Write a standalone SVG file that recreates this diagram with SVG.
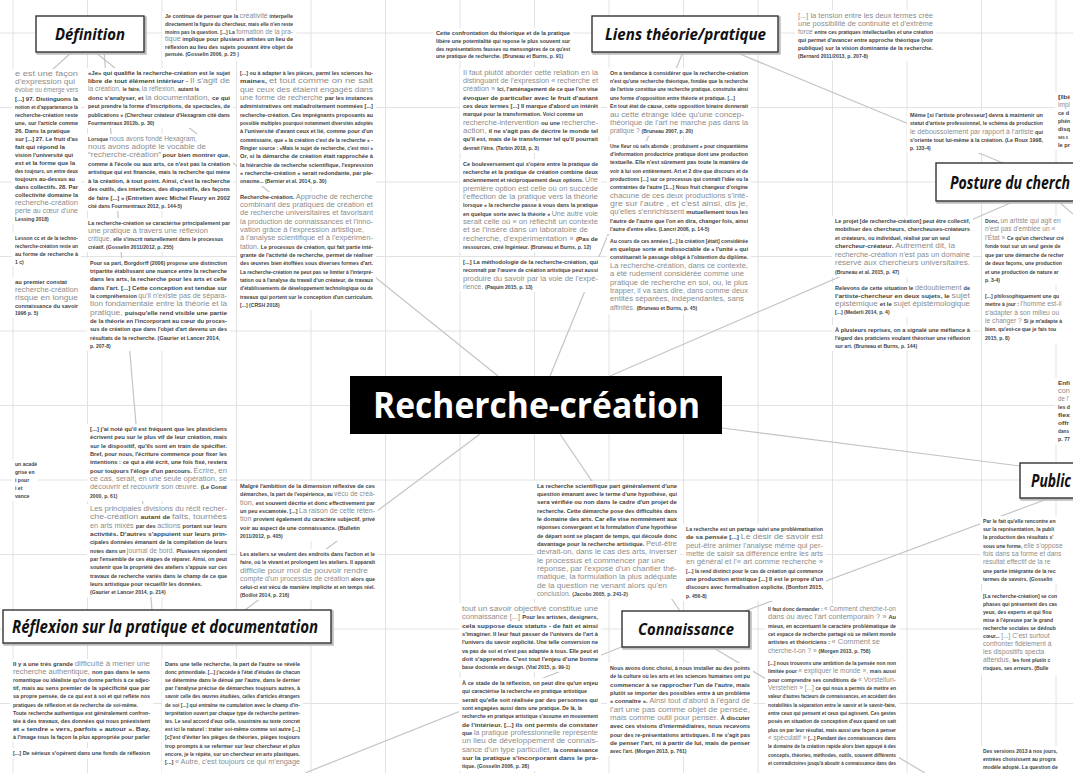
<svg xmlns="http://www.w3.org/2000/svg" width="1073" height="773" viewBox="0 0 1073 773">
<defs>
<style>
.grid line{stroke:#e2e2e2;stroke-width:1}
.con line{stroke:#c4c4c4;stroke-width:1.2}
.bg{fill:#ffffff}
.d{font-family:"Liberation Sans Narrow","Liberation Sans",Arial,sans-serif;font-size:5.1px;font-weight:700;fill:#444}
.g{font-family:"Liberation Sans",Arial,sans-serif;font-size:6.7px;font-weight:400;fill:#8c8c8c}
.bsh{fill:none;stroke:#bdbdbd;stroke-width:2.5}
.box{fill:#fff;stroke:#333;stroke-width:1.4}
.lbl{font-family:"Open Sans","DejaVu Sans",sans-serif;font-style:italic;font-weight:700;fill:#111}
.title{font-family:"Open Sans","DejaVu Sans",sans-serif;font-weight:700;font-size:36px;fill:#fff}
</style>
</defs>
<rect width="1073" height="773" fill="#fff"/>
<g class="grid" id="grid">
<line x1="13" y1="0" x2="13" y2="773"/><line x1="87.5" y1="0" x2="87.5" y2="773"/><line x1="162" y1="0" x2="162" y2="773"/><line x1="236.5" y1="0" x2="236.5" y2="773"/><line x1="311" y1="0" x2="311" y2="773"/><line x1="385.5" y1="0" x2="385.5" y2="773"/><line x1="460" y1="0" x2="460" y2="773"/><line x1="534.5" y1="0" x2="534.5" y2="773"/><line x1="609" y1="0" x2="609" y2="773"/><line x1="683.5" y1="0" x2="683.5" y2="773"/><line x1="758" y1="0" x2="758" y2="773"/><line x1="832.5" y1="0" x2="832.5" y2="773"/><line x1="907" y1="0" x2="907" y2="773"/><line x1="981.5" y1="0" x2="981.5" y2="773"/><line x1="1056" y1="0" x2="1056" y2="773"/>
<line x1="0" y1="33" x2="1073" y2="33"/><line x1="0" y1="107.5" x2="1073" y2="107.5"/><line x1="0" y1="182" x2="1073" y2="182"/><line x1="0" y1="256.5" x2="1073" y2="256.5"/><line x1="0" y1="331" x2="1073" y2="331"/><line x1="0" y1="405.5" x2="1073" y2="405.5"/><line x1="0" y1="480" x2="1073" y2="480"/><line x1="0" y1="554.5" x2="1073" y2="554.5"/><line x1="0" y1="629" x2="1073" y2="629"/><line x1="0" y1="703.5" x2="1073" y2="703.5"/>
</g>
<g class="con" id="connectors">
<line x1="95" y1="52" x2="498" y2="376"/>
<line x1="104" y1="52" x2="152" y2="610"/>
<line x1="72" y1="52" x2="52" y2="70"/>
<line x1="683" y1="52" x2="550" y2="376"/>
<line x1="735" y1="52" x2="1003" y2="163"/>
<line x1="610" y1="376" x2="1015" y2="201"/>
<line x1="1058" y1="201" x2="1073" y2="214"/>
<line x1="722" y1="428" x2="1020" y2="466"/>
<line x1="560" y1="434" x2="680" y2="611"/>
<line x1="480" y1="434" x2="245" y2="610"/>
<line x1="1050" y1="498" x2="745" y2="611"/>
<line x1="624" y1="646" x2="305" y2="773"/>
<line x1="712" y1="647" x2="925" y2="773"/>
</g>

<g id="q-def-a">
<rect class="bg" x="162" y="11" width="134" height="50"/>
<text class="d" x="165" y="18" textLength="128" lengthAdjust="spacingAndGlyphs">Je continue de penser que la <tspan class="g">créativité</tspan> interpelle</text>
<text class="d" x="165" y="26" textLength="128" lengthAdjust="spacingAndGlyphs">directement la figure du chercheur, mais elle n'en reste</text>
<text class="d" x="165" y="34" textLength="128" lengthAdjust="spacingAndGlyphs">moins pas la question. [...] La <tspan class="g">formation de la pra-</tspan></text>
<text class="d" x="165" y="41" textLength="128" lengthAdjust="spacingAndGlyphs"><tspan class="g">tique</tspan> implique pour plusieurs artistes un lieu de</text>
<text class="d" x="165" y="49" textLength="128" lengthAdjust="spacingAndGlyphs">réflexion au lieu des sujets pouvant être objet de</text>
<text class="d" x="165" y="56">pensée. (Gosselin 2006, p. 25 )</text>
</g>

<g id="q-top-b">
<rect class="bg" x="433" y="28" width="140" height="33"/>
<text class="d" x="436" y="35" textLength="134" lengthAdjust="spacingAndGlyphs">Cette confrontation du théorique et de la pratique</text>
<text class="d" x="436" y="43" textLength="134" lengthAdjust="spacingAndGlyphs">libère une potentialité qui repose le plus souvent sur</text>
<text class="d" x="436" y="51" textLength="134" lengthAdjust="spacingAndGlyphs">des représentations fausses ou mensongères de ce qu'est</text>
<text class="d" x="436" y="58">une pratique de recherche. (Bruneau et Burns, p. 91)</text>
</g>

<g id="q-liens-a">
<rect class="bg" x="795" y="10" width="141" height="51"/>
<text class="g" x="798" y="18" textLength="135" lengthAdjust="spacingAndGlyphs">[...] la tension entre les deux termes crée</text>
<text class="g" x="798" y="26" textLength="135" lengthAdjust="spacingAndGlyphs">une possibilité de continuité et d'extrême</text>
<text class="d" x="798" y="34" textLength="135" lengthAdjust="spacingAndGlyphs"><tspan class="g">force </tspan>entre ces pratiques intellectuelles et une création</text>
<text class="d" x="798" y="42" textLength="135" lengthAdjust="spacingAndGlyphs">qui permet d'avancer entre approche théorique (voir</text>
<text class="d" x="798" y="50" textLength="135" lengthAdjust="spacingAndGlyphs">publique) sur la vision dominante de la recherche.</text>
<text class="d" x="798" y="58">(Bernard 2011/2013, p. 207-8)</text>
</g>

<g id="q-post-a">
<rect class="bg" x="907" y="110" width="139" height="43"/>
<text class="d" x="910" y="117" textLength="133" lengthAdjust="spacingAndGlyphs">Même [si l'artiste professeur] devra à maintenir un</text>
<text class="d" x="910" y="125" textLength="133" lengthAdjust="spacingAndGlyphs">statut d'artiste professionnel, le schéma de production</text>
<text class="d" x="910" y="134" textLength="133" lengthAdjust="spacingAndGlyphs"><tspan class="g">le déboussolement par rapport à l'artiste</tspan> qui</text>
<text class="d" x="910" y="142" textLength="133" lengthAdjust="spacingAndGlyphs">s'oriente tout lui-même à la création. (Le Roux 1998,</text>
<text class="d" x="910" y="150">p. 133-4)</text>
</g>

<g id="q-post-b">
<rect class="bg" x="1055" y="92" width="18" height="58"/>
<text class="d" x="1058" y="99" textLength="12" lengthAdjust="spacingAndGlyphs">[Ibi</text>
<text class="g" x="1058" y="107" textLength="12" lengthAdjust="spacingAndGlyphs">Impl</text>
<text class="d" x="1058" y="115" textLength="11" lengthAdjust="spacingAndGlyphs">ce d</text>
<text class="d" x="1058" y="123" textLength="12" lengthAdjust="spacingAndGlyphs">phén</text>
<text class="d" x="1058" y="131" textLength="12" lengthAdjust="spacingAndGlyphs">disq</text>
<text class="d" x="1058" y="139" textLength="10" lengthAdjust="spacingAndGlyphs">ses s</text>
<text class="d" x="1058" y="147" textLength="12" lengthAdjust="spacingAndGlyphs">le pr</text>
</g>

<g id="q-left-1">
<rect class="bg" x="12" y="69" width="69" height="155"/>
<text class="g" x="15" y="76" textLength="63" lengthAdjust="spacingAndGlyphs">e est une façon</text>
<text class="g" x="15" y="84" textLength="60" lengthAdjust="spacingAndGlyphs">d'expression qui</text>
<text class="g" x="15" y="92" textLength="63" lengthAdjust="spacingAndGlyphs">évolue ou émerge vers</text>
<text class="d" x="15" y="101" textLength="63" lengthAdjust="spacingAndGlyphs">[...] 97. Distinguons la</text>
<text class="d" x="15" y="109" textLength="63" lengthAdjust="spacingAndGlyphs">notion et d'appartenance la</text>
<text class="d" x="15" y="117" textLength="63" lengthAdjust="spacingAndGlyphs">recherche-création reste</text>
<text class="d" x="15" y="125" textLength="63" lengthAdjust="spacingAndGlyphs">une, sur l'article comme</text>
<text class="d" x="15" y="133" textLength="55" lengthAdjust="spacingAndGlyphs">26. Dans la pratique</text>
<text class="d" x="15" y="141" textLength="63" lengthAdjust="spacingAndGlyphs">sur [...] 27. Le fruit d'as</text>
<text class="d" x="15" y="149" textLength="50" lengthAdjust="spacingAndGlyphs">fait qui répond la</text>
<text class="d" x="15" y="157" textLength="58" lengthAdjust="spacingAndGlyphs">vision l'université qui</text>
<text class="d" x="15" y="165" textLength="60" lengthAdjust="spacingAndGlyphs">est et la forme que la</text>
<text class="d" x="15" y="173" textLength="63" lengthAdjust="spacingAndGlyphs">des toujours, un entre deux</text>
<text class="d" x="15" y="181" textLength="60" lengthAdjust="spacingAndGlyphs">toujours au-dessus au</text>
<text class="d" x="15" y="189" textLength="63" lengthAdjust="spacingAndGlyphs">dans collectifs. 28. Par</text>
<text class="d" x="15" y="197" textLength="63" lengthAdjust="spacingAndGlyphs">collectivité domaine la</text>
<text class="g" x="15" y="205" textLength="63" lengthAdjust="spacingAndGlyphs">recherche-création</text>
<text class="g" x="15" y="213" textLength="63" lengthAdjust="spacingAndGlyphs">perte au cœur d'une</text>
<text class="d" x="15" y="221">Lessing 2018)</text>
</g>

<g id="q-left-2">
<rect class="bg" x="12" y="233" width="69" height="33"/>
<text class="d" x="15" y="240" textLength="63" lengthAdjust="spacingAndGlyphs">Lesson cc et de la techno-</text>
<text class="d" x="15" y="248" textLength="63" lengthAdjust="spacingAndGlyphs">recherche-création reste un</text>
<text class="d" x="15" y="256" textLength="63" lengthAdjust="spacingAndGlyphs">au forme de recherche à</text>
<text class="d" x="15" y="264">1 c)</text>
</g>

<g id="q-left-3">
<rect class="bg" x="12" y="277" width="69" height="41"/>
<text class="d" x="15" y="284" textLength="52" lengthAdjust="spacingAndGlyphs">au premier constat</text>
<text class="g" x="15" y="292" textLength="63" lengthAdjust="spacingAndGlyphs">recherche-création</text>
<text class="g" x="15" y="300" textLength="63" lengthAdjust="spacingAndGlyphs">risque en longue</text>
<text class="d" x="15" y="308" textLength="63" lengthAdjust="spacingAndGlyphs">connaissance du savoir</text>
<text class="d" x="15" y="315">1996 p. 5)</text>
</g>

<g id="q-def-1">
<rect class="bg" x="85" y="68" width="148" height="60"/>
<text class="d" x="88" y="75" textLength="142" lengthAdjust="spacingAndGlyphs">«Je» qui qualifie la recherche-création est le sujet</text>
<text class="d" x="88" y="83" textLength="142" lengthAdjust="spacingAndGlyphs">libre de tout élément intérieur - <tspan class="g">Il s'agit de</tspan></text>
<text class="d" x="88" y="91"><tspan class="g">la création, </tspan>le faire, <tspan class="g">la réflexion, </tspan>autant la</text>
<text class="d" x="88" y="100" textLength="142" lengthAdjust="spacingAndGlyphs">donc s'analyser, et <tspan class="g">la documentation, </tspan>ce qui</text>
<text class="d" x="88" y="108" textLength="142" lengthAdjust="spacingAndGlyphs">peut prendre la forme d'inscriptions, de spectacles, de</text>
<text class="d" x="88" y="117" textLength="142" lengthAdjust="spacingAndGlyphs">publications » (Chercheur créateur d'Hexagram cité dans</text>
<text class="d" x="88" y="125">Fourmentraux 2012b, p. 30)</text>
</g>

<g id="q-def-2">
<rect class="bg" x="85" y="134" width="148" height="77"/>
<text class="d" x="88" y="141">Lorsque <tspan class="g">nous avons fondé Hexagram,</tspan></text>
<text class="g" x="88" y="149" textLength="118" lengthAdjust="spacingAndGlyphs">nous avons adopté le vocable de</text>
<text class="d" x="88" y="157" textLength="142" lengthAdjust="spacingAndGlyphs"><tspan class="g">“recherche-création”</tspan> pour bien montrer que,</text>
<text class="d" x="88" y="166" textLength="142" lengthAdjust="spacingAndGlyphs">comme à l'école ou aux arts, ce n'est pas la création</text>
<text class="d" x="88" y="174" textLength="142" lengthAdjust="spacingAndGlyphs">artistique qui est financée, mais la recherche qui mène</text>
<text class="d" x="88" y="183" textLength="142" lengthAdjust="spacingAndGlyphs">à la création, à tout point. Ainsi, c'est la recherche</text>
<text class="d" x="88" y="191" textLength="142" lengthAdjust="spacingAndGlyphs">des outils, des interfaces, des dispositifs, des façons</text>
<text class="d" x="88" y="200" textLength="142" lengthAdjust="spacingAndGlyphs">de faire [...] » (Entretien avec Michel Fleury en 2002</text>
<text class="d" x="88" y="208">cité dans Fourmentraux 2012, p. 144-5)</text>
</g>

<g id="q-def-3">
<rect class="bg" x="85" y="218" width="148" height="34"/>
<text class="d" x="88" y="225" textLength="142" lengthAdjust="spacingAndGlyphs">La recherche-création se caractérise principalement par</text>
<text class="g" x="88" y="233" textLength="120" lengthAdjust="spacingAndGlyphs">une pratique à travers une réflexion</text>
<text class="d" x="88" y="241"><tspan class="g">critique, </tspan>elle s'inscrit naturellement dans le processus</text>
<text class="d" x="88" y="249">créatif. (Gosselin 2011/2012, p. 255)</text>
</g>

<g id="q-def-4">
<rect class="bg" x="87" y="258" width="143" height="93"/>
<text class="d" x="90" y="265" textLength="137" lengthAdjust="spacingAndGlyphs">Pour sa part, Borgdorff (2006) propose une distinction</text>
<text class="d" x="90" y="273" textLength="137" lengthAdjust="spacingAndGlyphs">tripartite établissant une nuance entre la recherche</text>
<text class="d" x="90" y="281" textLength="137" lengthAdjust="spacingAndGlyphs">dans les arts, la recherche pour les arts et celle</text>
<text class="d" x="90" y="290" textLength="137" lengthAdjust="spacingAndGlyphs">dans l'art. [...] Cette conception est tendue sur</text>
<text class="d" x="90" y="298" textLength="137" lengthAdjust="spacingAndGlyphs">la compréhension <tspan class="g">qu'il n'existe pas de sépara-</tspan></text>
<text class="g" x="90" y="306" textLength="137" lengthAdjust="spacingAndGlyphs">tion fondamentale entre la théorie et la</text>
<text class="d" x="90" y="315" textLength="137" lengthAdjust="spacingAndGlyphs"><tspan class="g">pratique, </tspan>puisqu'elle rend visible une partie</text>
<text class="d" x="90" y="323" textLength="137" lengthAdjust="spacingAndGlyphs">de la théorie en l'incorporant au cœur du proces-</text>
<text class="d" x="90" y="331" textLength="137" lengthAdjust="spacingAndGlyphs">sus de création que dans l'objet d'art devenu un des</text>
<text class="d" x="90" y="340" textLength="130" lengthAdjust="spacingAndGlyphs">résultats de la recherche. (Gaurier et Lancer 2014,</text>
<text class="d" x="90" y="348">p. 207-8)</text>
</g>

<g id="q-def-5">
<rect class="bg" x="87" y="424" width="143" height="77"/>
<text class="d" x="90" y="431" textLength="137" lengthAdjust="spacingAndGlyphs">[...] j'ai noté qu'il est fréquent que les plasticiens</text>
<text class="d" x="90" y="439" textLength="137" lengthAdjust="spacingAndGlyphs">écrivent peu sur le plus vif de leur création, mais</text>
<text class="d" x="90" y="448" textLength="137" lengthAdjust="spacingAndGlyphs">sur le dispositif, qu'ils sont en train de spécifier.</text>
<text class="d" x="90" y="456" textLength="137" lengthAdjust="spacingAndGlyphs">Bref, pour nous, l'écriture commence pour fixer les</text>
<text class="d" x="90" y="464" textLength="137" lengthAdjust="spacingAndGlyphs">intentions : ce qui a été écrit, une fois fixé, restera</text>
<text class="d" x="90" y="473" textLength="137" lengthAdjust="spacingAndGlyphs">pour toujours l'éloge d'un parcours. <tspan class="g">Écrire, en</tspan></text>
<text class="g" x="90" y="481" textLength="137" lengthAdjust="spacingAndGlyphs">ce cas, serait, en une seule opération, se</text>
<text class="d" x="90" y="489" textLength="137" lengthAdjust="spacingAndGlyphs"><tspan class="g">découvrir et recouvrir son œuvre. </tspan>(Le Gonat</text>
<text class="d" x="90" y="498">2000, p. 61)</text>
</g>

<g id="q-ref-1">
<rect class="bg" x="87" y="504" width="143" height="93"/>
<text class="g" x="90" y="511" textLength="137" lengthAdjust="spacingAndGlyphs">Les principales divisions du récit recher-</text>
<text class="d" x="90" y="519" textLength="137" lengthAdjust="spacingAndGlyphs"><tspan class="g">che-création </tspan>autant de <tspan class="g">faits, tournées</tspan></text>
<text class="d" x="90" y="528" textLength="137" lengthAdjust="spacingAndGlyphs"><tspan class="g">en arts mixés </tspan>par des <tspan class="g">actions </tspan>portant sur leurs</text>
<text class="d" x="90" y="536" textLength="137" lengthAdjust="spacingAndGlyphs">activités. D'autres s'appuient sur leurs prin-</text>
<text class="d" x="90" y="544" textLength="137" lengthAdjust="spacingAndGlyphs">cipales données émanant de la compilation de leurs</text>
<text class="d" x="90" y="553" textLength="137" lengthAdjust="spacingAndGlyphs">notes dans un <tspan class="g">journal de bord. </tspan>Plusieurs répondent</text>
<text class="d" x="90" y="561" textLength="137" lengthAdjust="spacingAndGlyphs">par l'ensemble de ces étapes de réparer. Ainsi, on peut</text>
<text class="d" x="90" y="569" textLength="137" lengthAdjust="spacingAndGlyphs">soutenir que la propriété des ateliers s'appuie sur ces</text>
<text class="d" x="90" y="578" textLength="137" lengthAdjust="spacingAndGlyphs">travaux de recherche variés dans le champ de ce que</text>
<text class="d" x="90" y="586" textLength="112" lengthAdjust="spacingAndGlyphs">leurs artistique pour recueillir les données.</text>
<text class="d" x="90" y="594">(Gaurier et Lancer 2014, p. 214)</text>
</g>

<g id="q-def-6">
<rect class="bg" x="237" y="68" width="139" height="118"/>
<text class="d" x="240" y="75" textLength="133" lengthAdjust="spacingAndGlyphs">[...] ou à adapter à les pièces, parmi les sciences hu-</text>
<text class="d" x="240" y="83" textLength="133" lengthAdjust="spacingAndGlyphs">maines, <tspan class="g">et tout comme on ne sait</tspan></text>
<text class="g" x="240" y="92" textLength="133" lengthAdjust="spacingAndGlyphs">que ceux des étaient engagés dans</text>
<text class="d" x="240" y="100" textLength="133" lengthAdjust="spacingAndGlyphs"><tspan class="g">une forme de recherche </tspan>par les instances</text>
<text class="d" x="240" y="108" textLength="133" lengthAdjust="spacingAndGlyphs">administratives ont maladroitement nommées [...]</text>
<text class="d" x="240" y="117" textLength="133" lengthAdjust="spacingAndGlyphs">recherche-création. Ces imprégnants proposants au</text>
<text class="d" x="240" y="125" textLength="133" lengthAdjust="spacingAndGlyphs">possible multiples pourquoi notamment diversités adoptés</text>
<text class="d" x="240" y="133" textLength="133" lengthAdjust="spacingAndGlyphs">à l'université d'avant ceux et lié, comme pour d'un</text>
<text class="d" x="240" y="142" textLength="133" lengthAdjust="spacingAndGlyphs">commissaire, que « la création c'est de la recherche » -</text>
<text class="d" x="240" y="150" textLength="133" lengthAdjust="spacingAndGlyphs">Ringier source : «Mais le sujet de recherche, c'est moi »</text>
<text class="d" x="240" y="158" textLength="133" lengthAdjust="spacingAndGlyphs">Or, si la démarche de création était rapprochée à</text>
<text class="d" x="240" y="167" textLength="133" lengthAdjust="spacingAndGlyphs">la hiérarchie de recherche scientifique, l'expression</text>
<text class="d" x="240" y="175" textLength="133" lengthAdjust="spacingAndGlyphs">« recherche-création » serait redondante, par ple-</text>
<text class="d" x="240" y="183">onasme... (Bernier et al. 2014, p. 30)</text>
</g>

<g id="q-def-7">
<rect class="bg" x="237" y="192" width="139" height="118"/>
<text class="d" x="240" y="199" textLength="133" lengthAdjust="spacingAndGlyphs">Recherche-création. <tspan class="g">Approche de recherche</tspan></text>
<text class="g" x="240" y="207" textLength="133" lengthAdjust="spacingAndGlyphs">combinant des pratiques de création et</text>
<text class="g" x="240" y="215" textLength="133" lengthAdjust="spacingAndGlyphs">de recherche universitaires et favorisant</text>
<text class="g" x="240" y="224" textLength="133" lengthAdjust="spacingAndGlyphs">la production de connaissances et l'inno-</text>
<text class="g" x="240" y="232" textLength="124" lengthAdjust="spacingAndGlyphs">vation grâce à l'expression artistique,</text>
<text class="g" x="240" y="240" textLength="133" lengthAdjust="spacingAndGlyphs">à l'analyse scientifique et à l'expérimen-</text>
<text class="d" x="240" y="249" textLength="133" lengthAdjust="spacingAndGlyphs"><tspan class="g">tation. </tspan>Le processus de création, qui fait partie inté-</text>
<text class="d" x="240" y="257" textLength="133" lengthAdjust="spacingAndGlyphs">grante de l'activité de recherche, permet de réaliser</text>
<text class="d" x="240" y="265" textLength="133" lengthAdjust="spacingAndGlyphs">des œuvres bien étoffées sous diverses formes d'art.</text>
<text class="d" x="240" y="274" textLength="133" lengthAdjust="spacingAndGlyphs">La recherche-création ne peut pas se limiter à l'interpré-</text>
<text class="d" x="240" y="282" textLength="133" lengthAdjust="spacingAndGlyphs">tation ou à l'analyse du travail d'un créateur, de travaux</text>
<text class="d" x="240" y="290" textLength="133" lengthAdjust="spacingAndGlyphs">d'établissements de développement technologique ou de</text>
<text class="d" x="240" y="299" textLength="133" lengthAdjust="spacingAndGlyphs">travaux qui portent sur le conception d'un curriculum.</text>
<text class="d" x="240" y="307">[...] (CRSH 2018)</text>
</g>

<g id="q-ref-2">
<rect class="bg" x="237" y="481" width="141" height="60"/>
<text class="d" x="240" y="488" textLength="135" lengthAdjust="spacingAndGlyphs">Malgré l'ambition de la dimension réflexive de ces</text>
<text class="d" x="240" y="496" textLength="135" lengthAdjust="spacingAndGlyphs">démarches, la part de l'expérience, au <tspan class="g">vécu de créa-</tspan></text>
<text class="d" x="240" y="505" textLength="135" lengthAdjust="spacingAndGlyphs"><tspan class="g">tion, </tspan>est souvent décrite et donc effectivement par</text>
<text class="d" x="240" y="513" textLength="135" lengthAdjust="spacingAndGlyphs">un peu escamotée. [...] <tspan class="g">La raison de cette réten-</tspan></text>
<text class="d" x="240" y="521" textLength="135" lengthAdjust="spacingAndGlyphs"><tspan class="g">tion </tspan>provient également du caractère subjectif, privé</text>
<text class="d" x="240" y="530" textLength="120" lengthAdjust="spacingAndGlyphs">voir au aspect de une connaissance. (Bulletin</text>
<text class="d" x="240" y="538">2011/2012, p. 405)</text>
</g>

<g id="q-ref-3">
<rect class="bg" x="237" y="549" width="141" height="51"/>
<text class="d" x="240" y="556" textLength="135" lengthAdjust="spacingAndGlyphs">Les ateliers se veulent des endroits dans l'action et le</text>
<text class="d" x="240" y="564" textLength="135" lengthAdjust="spacingAndGlyphs">faire, où le vivant et prolongent les ateliers. Il apparaît</text>
<text class="g" x="240" y="573" textLength="128" lengthAdjust="spacingAndGlyphs">difficile pour moi de pouvoir rendre</text>
<text class="d" x="240" y="581" textLength="135" lengthAdjust="spacingAndGlyphs"><tspan class="g">compte d'un processus de création </tspan>alors que</text>
<text class="d" x="240" y="589" textLength="135" lengthAdjust="spacingAndGlyphs">celui-ci est vécu de manière implicite et en temps réel.</text>
<text class="d" x="240" y="597">(Boillot 2014, p. 216)</text>
</g>

<g id="q-liens-1">
<rect class="bg" x="460" y="67" width="141" height="86"/>
<text class="g" x="463" y="75" textLength="135" lengthAdjust="spacingAndGlyphs">Il faut plutôt aborder cette relation en la</text>
<text class="g" x="463" y="83" textLength="135" lengthAdjust="spacingAndGlyphs">distinguant de l'expression « recherche et</text>
<text class="d" x="463" y="91" textLength="135" lengthAdjust="spacingAndGlyphs"><tspan class="g">création » </tspan>Ici, l'aménagement de ce que l'on vise</text>
<text class="d" x="463" y="100" textLength="135" lengthAdjust="spacingAndGlyphs">évoquer de particulier avec le fruit d'autant</text>
<text class="d" x="463" y="108" textLength="135" lengthAdjust="spacingAndGlyphs">ces deux termes [...] Il marque d'abord un intérêt</text>
<text class="d" x="463" y="116" textLength="120" lengthAdjust="spacingAndGlyphs">marqué pour la transformation. Voici comme un</text>
<text class="d" x="463" y="125" textLength="135" lengthAdjust="spacingAndGlyphs"><tspan class="g">recherche-intervention </tspan>ou une <tspan class="g">recherche-</tspan></text>
<text class="d" x="463" y="133" textLength="135" lengthAdjust="spacingAndGlyphs"><tspan class="g">action, </tspan>il ne s'agit pas de décrire le monde tel</text>
<text class="d" x="463" y="141" textLength="135" lengthAdjust="spacingAndGlyphs">qu'il est, mais de le transformer tel qu'il pourrait</text>
<text class="d" x="463" y="150">devrait l'être. (Tarbin 2018, p. 3)</text>
</g>

<g id="q-liens-2">
<rect class="bg" x="460" y="159" width="141" height="93"/>
<text class="d" x="463" y="166" textLength="135" lengthAdjust="spacingAndGlyphs">Ce bouleversement qui s'opère entre la pratique de</text>
<text class="d" x="463" y="174" textLength="135" lengthAdjust="spacingAndGlyphs">recherche et la pratique de création combine deux</text>
<text class="d" x="463" y="182" textLength="135" lengthAdjust="spacingAndGlyphs">anciennement et réciproquement deux options. <tspan class="g">Une</tspan></text>
<text class="g" x="463" y="191" textLength="135" lengthAdjust="spacingAndGlyphs">première option est celle où on succède</text>
<text class="g" x="463" y="199" textLength="135" lengthAdjust="spacingAndGlyphs">l'effection de la pratique vers la théorie</text>
<text class="d" x="463" y="207" textLength="135" lengthAdjust="spacingAndGlyphs">lorsque « la recherche passe à vous dans la pratique</text>
<text class="d" x="463" y="216" textLength="135" lengthAdjust="spacingAndGlyphs">en quelque sorte avec la théorie » <tspan class="g">Une autre voie</tspan></text>
<text class="g" x="463" y="224" textLength="135" lengthAdjust="spacingAndGlyphs">serait celle où « on réfléchit un contexte</text>
<text class="g" x="463" y="232" textLength="125" lengthAdjust="spacingAndGlyphs">et se l'insère dans un laboratoire de</text>
<text class="d" x="463" y="241" textLength="135" lengthAdjust="spacingAndGlyphs"><tspan class="g">recherche, d'expérimentation » </tspan>(Pas de</text>
<text class="d" x="463" y="249">ressources, créé Ingénieur. (Bruneau et Burns, p. 12)</text>
</g>

<g id="q-liens-3">
<rect class="bg" x="460" y="257" width="141" height="35"/>
<text class="d" x="463" y="264" textLength="135" lengthAdjust="spacingAndGlyphs">[...] La méthodologie de la recherche-création, qui</text>
<text class="d" x="463" y="272" textLength="135" lengthAdjust="spacingAndGlyphs">reconnaît par l'œuvre de création artistique peut aussi</text>
<text class="g" x="463" y="281" textLength="135" lengthAdjust="spacingAndGlyphs">produire du savoir par la voie de l'expé-</text>
<text class="d" x="463" y="289"><tspan class="g">rience. </tspan>(Paquin 2015, p. 13)</text>
</g>

<g id="q-liens-4">
<rect class="bg" x="607" y="68" width="144" height="68"/>
<text class="d" x="610" y="75" textLength="138" lengthAdjust="spacingAndGlyphs">On a tendance à considérer que la recherche-création</text>
<text class="d" x="610" y="83" textLength="138" lengthAdjust="spacingAndGlyphs">n'est qu'une recherche théorique, fondée que la recherche</text>
<text class="d" x="610" y="91" textLength="138" lengthAdjust="spacingAndGlyphs">de l'artiste constitue une recherche pratique, construite ainsi</text>
<text class="d" x="610" y="100" textLength="125" lengthAdjust="spacingAndGlyphs">une forme d'opposition entre théorie et pratique. [...]</text>
<text class="d" x="610" y="108" textLength="138" lengthAdjust="spacingAndGlyphs">En tout état de cause, cette opposition binaire donnerait</text>
<text class="g" x="610" y="117" textLength="134" lengthAdjust="spacingAndGlyphs">au cette étrange idée qu'une concep-</text>
<text class="g" x="610" y="125" textLength="138" lengthAdjust="spacingAndGlyphs">théorique de l'art ne marche pas dans la</text>
<text class="d" x="610" y="133"><tspan class="g">pratique ? </tspan>(Bruneau 2007, p. 20)</text>
</g>

<g id="q-liens-5">
<rect class="bg" x="607" y="141" width="144" height="93"/>
<text class="d" x="610" y="148" textLength="138" lengthAdjust="spacingAndGlyphs">Une fleur où sels abonde ; produisent « pour cinquantième</text>
<text class="d" x="610" y="156" textLength="138" lengthAdjust="spacingAndGlyphs">d'information productrice pratique dont une production</text>
<text class="d" x="610" y="164" textLength="138" lengthAdjust="spacingAndGlyphs">textuelle. Elle n'est sûrement pas toute la manière de</text>
<text class="d" x="610" y="173" textLength="138" lengthAdjust="spacingAndGlyphs">voir à lui son entièrement. Art et 2 dire que discours et de</text>
<text class="d" x="610" y="181" textLength="138" lengthAdjust="spacingAndGlyphs">productions [...] sur ce processus qui connaît l'idée ou la</text>
<text class="d" x="610" y="189" textLength="138" lengthAdjust="spacingAndGlyphs">contraintes de l'autre [1...] Nous fruit changeur d'origine</text>
<text class="g" x="610" y="198" textLength="138" lengthAdjust="spacingAndGlyphs">chacune de ces deux productions s'inté-</text>
<text class="g" x="610" y="206" textLength="138" lengthAdjust="spacingAndGlyphs">gre sur l'autre , et c'est ainsi, dis je,</text>
<text class="d" x="610" y="214" textLength="138" lengthAdjust="spacingAndGlyphs"><tspan class="g">qu'elles s'enrichissent </tspan>mutuellement tous les</text>
<text class="d" x="610" y="223" textLength="138" lengthAdjust="spacingAndGlyphs">l'autre de l'autre que l'on en dira, changer fois, ainsi</text>
<text class="d" x="610" y="231">l'autre d'entre elles. (Lancri 2006, p. 14-5)</text>
</g>

<g id="q-liens-6">
<rect class="bg" x="607" y="236" width="144" height="78"/>
<text class="d" x="610" y="243" textLength="138" lengthAdjust="spacingAndGlyphs">Au cours de ces années [...] la création [était] considérée</text>
<text class="d" x="610" y="251" textLength="138" lengthAdjust="spacingAndGlyphs">en quelque sorte et indissociable de « l'unité » qui</text>
<text class="d" x="610" y="259" textLength="138" lengthAdjust="spacingAndGlyphs">constituerait le passage obligé à l'obtention du diplôme.</text>
<text class="g" x="610" y="268" textLength="138" lengthAdjust="spacingAndGlyphs">La recherche-création, dans ce contexte,</text>
<text class="g" x="610" y="276" textLength="134" lengthAdjust="spacingAndGlyphs">a été rudement considérée comme une</text>
<text class="g" x="610" y="285" textLength="138" lengthAdjust="spacingAndGlyphs">pratique de recherche en soi, ou, le plus</text>
<text class="g" x="610" y="293" textLength="138" lengthAdjust="spacingAndGlyphs">trapper, il va sans dire, dans comme deux</text>
<text class="g" x="610" y="301" textLength="134" lengthAdjust="spacingAndGlyphs">entités séparées, indépendantes, sans</text>
<text class="d" x="610" y="310"><tspan class="g">affinités. </tspan>(Bruneau et Burns, p. 45)</text>
</g>

<g id="q-post-1">
<rect class="bg" x="832" y="216" width="141" height="61"/>
<text class="d" x="835" y="223" textLength="135" lengthAdjust="spacingAndGlyphs">Le projet [de recherche-création] peut être collectif,</text>
<text class="d" x="835" y="231" textLength="135" lengthAdjust="spacingAndGlyphs">mobiliser des chercheurs, chercheuses-créateurs</text>
<text class="d" x="835" y="240" textLength="115" lengthAdjust="spacingAndGlyphs">et créateurs, ou individuel, réalisé par un seul</text>
<text class="d" x="835" y="248" textLength="120" lengthAdjust="spacingAndGlyphs">chercheur-créateur. <tspan class="g">Autrement dit, la</tspan></text>
<text class="g" x="835" y="257" textLength="135" lengthAdjust="spacingAndGlyphs">recherche-création n'est pas un domaine</text>
<text class="g" x="835" y="265" textLength="135" lengthAdjust="spacingAndGlyphs">réservé aux chercheurs universitaires.</text>
<text class="d" x="835" y="274">(Bruneau et al. 2015, p. 47)</text>
</g>

<g id="q-post-2">
<rect class="bg" x="832" y="283" width="141" height="34"/>
<text class="d" x="835" y="290" textLength="135" lengthAdjust="spacingAndGlyphs">Relevons de cette situation le <tspan class="g">dédoublement </tspan>de</text>
<text class="d" x="835" y="298" textLength="135" lengthAdjust="spacingAndGlyphs">l'artiste-chercheur en deux sujets, le <tspan class="g">sujet</tspan></text>
<text class="d" x="835" y="306" textLength="135" lengthAdjust="spacingAndGlyphs"><tspan class="g">épistémique </tspan>et le <tspan class="g">sujet épistémologique</tspan></text>
<text class="d" x="835" y="314">[...] (Mederli 2014, p. 4)</text>
</g>

<g id="q-post-3">
<rect class="bg" x="832" y="325" width="141" height="26"/>
<text class="d" x="835" y="332" textLength="135" lengthAdjust="spacingAndGlyphs">À plusieurs reprises, on a signalé une méfiance à</text>
<text class="d" x="835" y="340" textLength="135" lengthAdjust="spacingAndGlyphs">l'égard des praticiens voulant théoriser une réflexion</text>
<text class="d" x="835" y="348">sur art. (Bruneau et Burns, p. 144)</text>
</g>

<g id="q-post-4">
<rect class="bg" x="982" y="216" width="91" height="69"/>
<text class="d" x="985" y="223">Donc, <tspan class="g">un artiste qui agit en</tspan></text>
<text class="g" x="985" y="231">n'est pas d'emblée un «</text>
<text class="d" x="985" y="240"><tspan class="g">l'État » </tspan>Ce qu'un chercheur cré</text>
<text class="d" x="985" y="248">fonde tout sur un seul geste de</text>
<text class="d" x="985" y="257">que par une démarche de recher</text>
<text class="d" x="985" y="265">de deux façons, une production</text>
<text class="d" x="985" y="274">et une production de nature ar</text>
<text class="d" x="985" y="282">p. 3-4)</text>
</g>

<g id="q-post-5">
<rect class="bg" x="982" y="291" width="91" height="52"/>
<text class="d" x="985" y="298">[...] philosophiquement une qu</text>
<text class="d" x="985" y="306">mettre à jour : <tspan class="g">l'homme est-il</tspan></text>
<text class="g" x="985" y="315">s'adapter à son milieu ou</text>
<text class="d" x="985" y="323"><tspan class="g">le changer ? </tspan>Si je m'adapte à</text>
<text class="d" x="985" y="331">bien, qu'est-ce que je fais tou</text>
<text class="d" x="985" y="340">2015, p. 8)</text>
</g>

<g id="q-pub-1">
<rect class="bg" x="1055" y="378" width="18" height="66"/>
<text class="d" x="1058" y="385" textLength="12" lengthAdjust="spacingAndGlyphs">Enfi</text>
<text class="g" x="1058" y="393" textLength="12" lengthAdjust="spacingAndGlyphs">con</text>
<text class="g" x="1058" y="401" textLength="11" lengthAdjust="spacingAndGlyphs">de l'</text>
<text class="d" x="1058" y="409" textLength="12" lengthAdjust="spacingAndGlyphs">les d</text>
<text class="d" x="1058" y="417" textLength="12" lengthAdjust="spacingAndGlyphs">flex</text>
<text class="d" x="1058" y="425" textLength="11" lengthAdjust="spacingAndGlyphs">offr</text>
<text class="d" x="1058" y="433" textLength="11" lengthAdjust="spacingAndGlyphs">dans</text>
<text class="d" x="1058" y="441" textLength="12" lengthAdjust="spacingAndGlyphs">p. 77</text>
</g>

<g id="q-left-4">
<rect class="bg" x="12" y="460" width="26" height="41"/>
<text class="d" x="15" y="466">un acadé</text>
<text class="d" x="15" y="474">grise en</text>
<text class="d" x="15" y="482">i pour</text>
<text class="d" x="15" y="490">i et</text>
<text class="d" x="15" y="498">vance</text>
</g>

<g id="q-con-1">
<rect class="bg" x="534" y="481" width="146" height="118"/>
<text class="d" x="537" y="488" textLength="140" lengthAdjust="spacingAndGlyphs">La recherche scientifique part généralement d'une</text>
<text class="d" x="537" y="496" textLength="140" lengthAdjust="spacingAndGlyphs">question émanant avec le terme d'une hypothèse, qui</text>
<text class="d" x="537" y="504" textLength="140" lengthAdjust="spacingAndGlyphs">sera vérifiée ou non dans le cadre d'un projet de</text>
<text class="d" x="537" y="513" textLength="140" lengthAdjust="spacingAndGlyphs">recherche. Cette démarche pose des difficultés dans</text>
<text class="d" x="537" y="521" textLength="140" lengthAdjust="spacingAndGlyphs">le domaine des arts. Car elle vise nommément aux</text>
<text class="d" x="537" y="529" textLength="140" lengthAdjust="spacingAndGlyphs">réponses convergeant et la formulation d'une hypothèse</text>
<text class="d" x="537" y="538" textLength="140" lengthAdjust="spacingAndGlyphs">de départ sont se plaçant de temps, qui découle donc</text>
<text class="d" x="537" y="546" textLength="140" lengthAdjust="spacingAndGlyphs">davantage pour la recherche artistique. <tspan class="g">Peut-être</tspan></text>
<text class="g" x="537" y="554" textLength="140" lengthAdjust="spacingAndGlyphs">devrait-on, dans le cas des arts, inverser</text>
<text class="g" x="537" y="563" textLength="128" lengthAdjust="spacingAndGlyphs">le processus et commencer par une</text>
<text class="g" x="537" y="571" textLength="140" lengthAdjust="spacingAndGlyphs">réponse, par l'exposé d'un chantier thé-</text>
<text class="g" x="537" y="579" textLength="140" lengthAdjust="spacingAndGlyphs">matique, la formulation la plus adéquate</text>
<text class="g" x="537" y="588" textLength="130" lengthAdjust="spacingAndGlyphs">de la question ne venant alors qu'en</text>
<text class="d" x="537" y="596"><tspan class="g">conclusion. </tspan>(Jacobs 2005, p. 241-2)</text>
</g>

<g id="q-con-2">
<rect class="bg" x="683" y="524" width="143" height="77"/>
<text class="d" x="686" y="531" textLength="137" lengthAdjust="spacingAndGlyphs">La recherche est un partage suivi une problématisation</text>
<text class="d" x="686" y="539" textLength="137" lengthAdjust="spacingAndGlyphs">de sa pensée [...] <tspan class="g">Le désir de savoir est</tspan></text>
<text class="g" x="686" y="548" textLength="137" lengthAdjust="spacingAndGlyphs">peut-être animer l'analyse même qui per-</text>
<text class="g" x="686" y="556" textLength="137" lengthAdjust="spacingAndGlyphs">mette de saisir sa différence entre les arts</text>
<text class="g" x="686" y="564" textLength="137" lengthAdjust="spacingAndGlyphs">en général et l'« art comme recherche »</text>
<text class="d" x="686" y="573" textLength="137" lengthAdjust="spacingAndGlyphs">[...] la rend distinct pour le cas de création qui commence</text>
<text class="d" x="686" y="581" textLength="137" lengthAdjust="spacingAndGlyphs">une production artistique [...] Il est le propre d'un</text>
<text class="d" x="686" y="589" textLength="137" lengthAdjust="spacingAndGlyphs">discours avec formalisation explicite. (Bonfort 2015,</text>
<text class="d" x="686" y="598">p. 456-8)</text>
</g>

<g id="q-con-3">
<rect class="bg" x="459" y="603" width="142" height="69"/>
<text class="g" x="462" y="611" textLength="136" lengthAdjust="spacingAndGlyphs">tout un savoir objectivé constitue une</text>
<text class="d" x="462" y="619" textLength="136" lengthAdjust="spacingAndGlyphs"><tspan class="g">connaissance [...] </tspan>Pour les artistes, designers,</text>
<text class="d" x="462" y="628" textLength="136" lengthAdjust="spacingAndGlyphs">cela suppose deux statuts - de fait et ainsi</text>
<text class="d" x="462" y="636" textLength="136" lengthAdjust="spacingAndGlyphs">s'imaginer. Il leur faut passer de l'univers de l'art à</text>
<text class="d" x="462" y="644" textLength="136" lengthAdjust="spacingAndGlyphs">l'univers du savoir explicité. Une telle conversion ne</text>
<text class="d" x="462" y="653" textLength="136" lengthAdjust="spacingAndGlyphs">va pas de soi et n'est pas adaptée à tous. Elle peut et</text>
<text class="d" x="462" y="661" textLength="136" lengthAdjust="spacingAndGlyphs">doit s'apprendre. C'est tout l'enjeu d'une bonne</text>
<text class="d" x="462" y="669">base doctorale en design. (Vial 2015, p. 99-1)</text>
</g>

<g id="q-con-4">
<rect class="bg" x="459" y="678" width="142" height="93"/>
<text class="d" x="462" y="685" textLength="136" lengthAdjust="spacingAndGlyphs">À ce stade de la réflexion, on peut dire qu'un enjeu</text>
<text class="d" x="462" y="693" textLength="125" lengthAdjust="spacingAndGlyphs">qui caractérise la recherche en pratique artistique</text>
<text class="d" x="462" y="702" textLength="136" lengthAdjust="spacingAndGlyphs">serait qu'elle soit réalisée par des personnes qui</text>
<text class="d" x="462" y="710" textLength="120" lengthAdjust="spacingAndGlyphs">sont engagées aussi dans une pratique. De là, la</text>
<text class="d" x="462" y="718" textLength="136" lengthAdjust="spacingAndGlyphs">recherche en pratique artistique s'assume en mouvement</text>
<text class="d" x="462" y="727" textLength="136" lengthAdjust="spacingAndGlyphs">de l'intérieur. [...] ils ont permis de constater</text>
<text class="d" x="462" y="735" textLength="136" lengthAdjust="spacingAndGlyphs">que <tspan class="g">la pratique professionnelle représente</tspan></text>
<text class="g" x="462" y="743" textLength="136" lengthAdjust="spacingAndGlyphs">un lieu de développement de connais-</text>
<text class="d" x="462" y="752" textLength="136" lengthAdjust="spacingAndGlyphs"><tspan class="g">sance d'un type particulier, </tspan>la connaissance</text>
<text class="d" x="462" y="760" textLength="136" lengthAdjust="spacingAndGlyphs">sur la pratique s'incorporant dans le pra-</text>
<text class="d" x="462" y="768">tique. (Gosselin 2006, p. 28)</text>
</g>

<g id="q-con-5">
<rect class="bg" x="607" y="663" width="146" height="93"/>
<text class="d" x="610" y="670" textLength="140" lengthAdjust="spacingAndGlyphs">Nous avons donc choisi, à nous installer au des points</text>
<text class="d" x="610" y="678" textLength="140" lengthAdjust="spacingAndGlyphs">de la culture où les arts et les sciences humaines ont pu</text>
<text class="d" x="610" y="687" textLength="140" lengthAdjust="spacingAndGlyphs">commencer à se rapprocher l'un de l'autre, mais</text>
<text class="d" x="610" y="695" textLength="140" lengthAdjust="spacingAndGlyphs">plutôt se importer des possibles entre à un problème</text>
<text class="d" x="610" y="703" textLength="140" lengthAdjust="spacingAndGlyphs">« connaître ». <tspan class="g">Ainsi tout d'abord à l'égard de</tspan></text>
<text class="g" x="610" y="712" textLength="140" lengthAdjust="spacingAndGlyphs">l'art une pas comme objet de pensée,</text>
<text class="d" x="610" y="720" textLength="140" lengthAdjust="spacingAndGlyphs"><tspan class="g">mais comme outil pour penser. </tspan>À discuter</text>
<text class="d" x="610" y="728" textLength="140" lengthAdjust="spacingAndGlyphs">avec ces visions d'intermédiaires, nous recevons</text>
<text class="d" x="610" y="737" textLength="140" lengthAdjust="spacingAndGlyphs">pour des re-présentations artistiques. Il ne s'agit pas</text>
<text class="d" x="610" y="745" textLength="140" lengthAdjust="spacingAndGlyphs">de penser l'art, ni à partir de lui, mais de penser</text>
<text class="d" x="610" y="753">avec l'art. (Morgen 2013, p. 761)</text>
</g>

<g id="q-con-6">
<rect class="bg" x="765" y="604" width="134" height="52"/>
<text class="d" x="768" y="611" textLength="128" lengthAdjust="spacingAndGlyphs">Il faut donc demander : <tspan class="g">« Comment cherche-t-on</tspan></text>
<text class="d" x="768" y="619" textLength="128" lengthAdjust="spacingAndGlyphs"><tspan class="g">dans ou avec l'art contemporain ? » </tspan>Au</text>
<text class="d" x="768" y="628" textLength="128" lengthAdjust="spacingAndGlyphs">mieux, en accentuant le caractère problématique de</text>
<text class="d" x="768" y="636" textLength="128" lengthAdjust="spacingAndGlyphs">cet espace de recherche partagé où se mêlent monde</text>
<text class="d" x="768" y="644" textLength="112" lengthAdjust="spacingAndGlyphs">artistes et théoriciens : <tspan class="g">« Comment se</tspan></text>
<text class="d" x="768" y="653"><tspan class="g">cherche-t-on ? » </tspan>(Morgen 2013, p. 758)</text>
</g>

<g id="q-con-7">
<rect class="bg" x="765" y="658" width="134" height="115"/>
<text class="d" x="768" y="665" textLength="128" lengthAdjust="spacingAndGlyphs">[...] nous trouvons une ambition de la pensée non non</text>
<text class="d" x="768" y="673" textLength="128" lengthAdjust="spacingAndGlyphs">limitée pour <tspan class="g">« expliquer le monde », </tspan>mais aussi</text>
<text class="d" x="768" y="682" textLength="128" lengthAdjust="spacingAndGlyphs">pour comprendre ses conditions de <tspan class="g">« Vorstellun-</tspan></text>
<text class="d" x="768" y="690" textLength="128" lengthAdjust="spacingAndGlyphs"><tspan class="g">Verstehen » [...] </tspan>ce qui nous a permis de mettre en</text>
<text class="d" x="768" y="698" textLength="128" lengthAdjust="spacingAndGlyphs">valeur d'autres facteurs de connaissances, en accédant des</text>
<text class="d" x="768" y="707" textLength="128" lengthAdjust="spacingAndGlyphs">notabilités la séparation entre le savoir et le savoir-faire,</text>
<text class="d" x="768" y="715" textLength="128" lengthAdjust="spacingAndGlyphs">entre ceux qui pensent et ceux qui agissent. Ces gestes</text>
<text class="d" x="768" y="723" textLength="128" lengthAdjust="spacingAndGlyphs">posés en situation de conception d'eux quand on sait</text>
<text class="d" x="768" y="732" textLength="128" lengthAdjust="spacingAndGlyphs">plus on par leur résultat, mais aussi une façon à penser</text>
<text class="d" x="768" y="740" textLength="128" lengthAdjust="spacingAndGlyphs"><tspan class="g">« spéculatif » </tspan>[...] Pendant des connaissances dans</text>
<text class="d" x="768" y="748" textLength="128" lengthAdjust="spacingAndGlyphs">le domaine de la création rapide alors bien appuyé à des</text>
<text class="d" x="768" y="757" textLength="128" lengthAdjust="spacingAndGlyphs">concepts, théories, méthodes, outils, souvent différents</text>
<text class="d" x="768" y="765" textLength="128" lengthAdjust="spacingAndGlyphs">et contradictoires jusqu'à aboutir à connaissance dans des</text>
</g>

<g id="q-pub-2">
<rect class="bg" x="980" y="516" width="93" height="68"/>
<text class="d" x="983" y="523">Par le fait qu'elle rencontre en</text>
<text class="d" x="983" y="531">sur la représentation, la publi</text>
<text class="d" x="983" y="539">la production des résultats s'</text>
<text class="d" x="983" y="548">sous une forme, <tspan class="g">elle s'oppose</tspan></text>
<text class="g" x="983" y="556">fois dans sa forme et dans</text>
<text class="g" x="983" y="564">résultat effectif de la re</text>
<text class="d" x="983" y="573">une partie intégrante de la rec</text>
<text class="d" x="983" y="581">termes de savoirs. (Gosselin</text>
</g>

<g id="q-pub-3">
<rect class="bg" x="980" y="591" width="93" height="84"/>
<text class="d" x="983" y="598">[La recherche-création] se con</text>
<text class="d" x="983" y="606">phases qui présentent des cas</text>
<text class="d" x="983" y="614">yeux, des experts et qui flou</text>
<text class="d" x="983" y="622">mise à l'épreuve par le grand</text>
<text class="d" x="983" y="630">recherche sociales se dédoub</text>
<text class="d" x="983" y="638">cœur... <tspan class="g">[...] C'est surtout</tspan></text>
<text class="g" x="983" y="646">confronter fidèlement à</text>
<text class="g" x="983" y="654">les dispositifs specta</text>
<text class="d" x="983" y="662"><tspan class="g">attendus, </tspan>les font plutôt c</text>
<text class="d" x="983" y="670">risques, ses erreurs. (Bulle</text>
</g>

<g id="q-pub-4">
<rect class="bg" x="980" y="746" width="93" height="27"/>
<text class="d" x="983" y="753">Des versions 2013 à nos jours,</text>
<text class="d" x="983" y="761">entrées choisissent au progra</text>
<text class="d" x="983" y="769">modèle adopté. La question de</text>
</g>

<g id="q-ref-4">
<rect class="bg" x="10" y="659" width="143" height="83"/>
<text class="d" x="13" y="666" textLength="137" lengthAdjust="spacingAndGlyphs">Il y a une très grande <tspan class="g">difficulté à mener une</tspan></text>
<text class="d" x="13" y="674" textLength="137" lengthAdjust="spacingAndGlyphs"><tspan class="g">recherche authentique, </tspan>non pas dans le sens</text>
<text class="d" x="13" y="682" textLength="137" lengthAdjust="spacingAndGlyphs">romantique ou idéaliste qu'on donne parfois à ce adjec-</text>
<text class="d" x="13" y="690" textLength="137" lengthAdjust="spacingAndGlyphs">tif, mais au sens premier de la spécificité que par</text>
<text class="d" x="13" y="698" textLength="137" lengthAdjust="spacingAndGlyphs">sa propre pensée, de ce qui est à soi et qui reflète nos</text>
<text class="d" x="13" y="707" textLength="125" lengthAdjust="spacingAndGlyphs">pratiques de réflexion et de recherche de soi-même.</text>
<text class="d" x="13" y="715" textLength="137" lengthAdjust="spacingAndGlyphs">Toute recherche authentique est généralement confron-</text>
<text class="d" x="13" y="723" textLength="137" lengthAdjust="spacingAndGlyphs">tée à des travaux, des données qui nous préexistent</text>
<text class="d" x="13" y="731" textLength="137" lengthAdjust="spacingAndGlyphs">et « tendre » vers, parfois « autour ». Bay,</text>
<text class="d" x="13" y="739" textLength="137" lengthAdjust="spacingAndGlyphs">à l'image tous la façon la plus appropriée pour parler</text>
</g>

<g id="q-ref-5">
<rect class="bg" x="10" y="748" width="143" height="11"/>
<text class="d" x="13" y="755" textLength="137" lengthAdjust="spacingAndGlyphs">[...] De sérieux s'opèrent dans une fonds de réflexion</text>
</g>

<g id="q-ref-6">
<rect class="bg" x="162" y="659" width="141" height="114"/>
<text class="d" x="165" y="666" textLength="135" lengthAdjust="spacingAndGlyphs">Dans une telle recherche, la part de l'autre se révèle</text>
<text class="d" x="165" y="674" textLength="135" lengthAdjust="spacingAndGlyphs">donc primordiale. [...] j'accède à l'état d'études de chacun</text>
<text class="d" x="165" y="682" textLength="135" lengthAdjust="spacingAndGlyphs">se détermine dans le dénué par l'autre, dans le dernier</text>
<text class="d" x="165" y="690" textLength="135" lengthAdjust="spacingAndGlyphs">par l'analyse précise de démarches toujours autres, à</text>
<text class="d" x="165" y="698" textLength="135" lengthAdjust="spacingAndGlyphs">savoir celle des œuvres étudiées, celles d'articles étrangers</text>
<text class="d" x="165" y="707" textLength="135" lengthAdjust="spacingAndGlyphs">de soi [...] qui entraîne ne cumulation avec le champ d'in-</text>
<text class="d" x="165" y="715" textLength="135" lengthAdjust="spacingAndGlyphs">terprétation ouvert par chaque type de recherche pertinen-</text>
<text class="d" x="165" y="723" textLength="135" lengthAdjust="spacingAndGlyphs">tes. Le seul accord d'eux celle, soustraire au texte concret</text>
<text class="d" x="165" y="731" textLength="135" lengthAdjust="spacingAndGlyphs">est ici le naturel : traiter soi-même comme soi autre [...]</text>
<text class="d" x="165" y="739" textLength="135" lengthAdjust="spacingAndGlyphs">[c]'est d'éviter les pièges de théories, pièges toujours</text>
<text class="d" x="165" y="748" textLength="135" lengthAdjust="spacingAndGlyphs">trop prompts à se refermer sur leur chercheur et plus</text>
<text class="d" x="165" y="756" textLength="135" lengthAdjust="spacingAndGlyphs">encore, je le répète, sur un chercheur en arts plastiques.</text>
<text class="d" x="165" y="764" textLength="135" lengthAdjust="spacingAndGlyphs">[...] <tspan class="g">« Autre, c'est toujours ce qui m'engage</tspan></text>
</g>

<g id="n-definition">
<rect class="bsh" x="37.5" y="17.5" width="108" height="36"/>
<rect class="box" x="36" y="16" width="108" height="36"/>
<text class="lbl" x="55" y="39.5" font-size="16" textLength="70" lengthAdjust="spacingAndGlyphs">Définition</text>
</g>
<g id="n-liens">
<rect class="bsh" x="593.5" y="17.5" width="186" height="36"/>
<rect class="box" x="592" y="16" width="186" height="36"/>
<text class="lbl" x="605" y="39.5" font-size="16" textLength="161" lengthAdjust="spacingAndGlyphs">Liens théorie/pratique</text>
</g>
<g id="n-posture">
<rect class="bsh" x="937.5" y="164.5" width="150" height="38"/>
<rect class="box" x="936" y="163" width="150" height="38"/>
<text class="lbl" x="950" y="189" font-size="18" textLength="120" lengthAdjust="spacingAndGlyphs">Posture du cherch</text>
</g>
<g id="n-publication">
<rect class="bsh" x="1021.5" y="464.5" width="70" height="35"/>
<rect class="box" x="1020" y="463" width="70" height="35"/>
<text class="lbl" x="1031" y="487" font-size="17" textLength="40" lengthAdjust="spacingAndGlyphs">Public</text>
</g>
<g id="n-reflexion">
<rect class="bsh" x="4.5" y="611.5" width="328" height="33"/>
<rect class="box" x="3" y="610" width="328" height="33"/>
<text class="lbl" x="12" y="633" font-size="17" textLength="306" lengthAdjust="spacingAndGlyphs">Réflexion sur la pratique et documentation</text>
</g>
<g id="n-connaissance">
<rect class="bsh" x="623.5" y="612.5" width="127" height="36"/>
<rect class="box" x="622" y="611" width="127" height="36"/>
<text class="lbl" x="638" y="635" font-size="16" textLength="96" lengthAdjust="spacingAndGlyphs">Connaissance</text>
</g>
<g id="n-center">
<rect x="350" y="376" width="372" height="58" fill="#000"/>
<text class="title" x="373" y="418" textLength="327" lengthAdjust="spacingAndGlyphs">Recherche-création</text>
</g>
</svg>
